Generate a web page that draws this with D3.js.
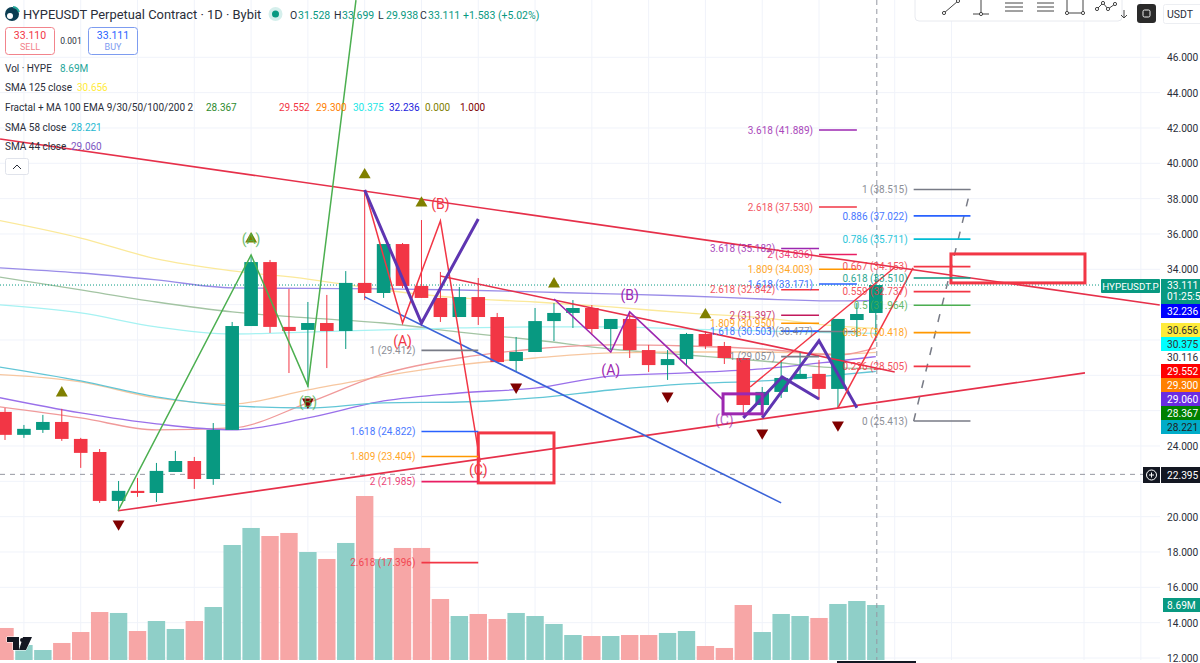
<!DOCTYPE html>
<html><head><meta charset="utf-8">
<style>html,body{margin:0;padding:0;background:#fff}svg{display:block}text{font-family:Roboto,sans-serif}</style>
<script src="https://cdnjs.cloudflare.com/ajax/libs/d3/7.8.5/d3.min.js"></script>
</head><body><svg id="c" width="1200" height="663"></svg>
<script>
// ---- candles (bar index is array position) ----
const opens =[25.93,24.63,24.91,25.36,24.40,23.66,20.89,21.46,21.34,22.53,23.15,22.13,24.91,30.79,34.41,30.74,30.57,30.96,30.51,33.23,32.66,35.43,33.06,32.38,31.30,32.43,31.30,28.81,29.32,31.07,31.53,31.81,30.62,31.19,29.43,28.58,28.92,30.34,29.66,28.98,26.32,27.06,27.80,28.08,27.23,31.13,31.528];
const highs =[26.15,25.19,25.76,26.10,24.46,23.83,22.02,22.19,23.04,23.72,23.38,25.30,31.02,34.81,34.53,32.89,32.15,32.55,33.90,38.49,35.43,35.49,36.79,33.85,33.00,33.51,31.53,30.17,31.81,32.09,32.26,31.98,31.19,31.58,29.72,29.43,30.40,30.51,29.89,28.98,27.34,28.87,29.32,28.87,31.19,32.09,33.699];
const lows  =[24.34,24.46,24.74,24.29,22.76,20.78,20.38,21.12,20.83,22.53,21.57,21.80,24.91,30.79,30.40,28.13,27.34,28.41,29.49,32.26,32.38,32.94,32.38,31.02,31.30,30.85,28.75,28.19,29.32,29.94,30.68,30.28,29.43,28.98,28.19,27.74,28.58,29.49,28.64,25.76,25.64,26.72,27.80,26.60,26.15,30.17,29.938];
const closes=[24.63,24.97,25.36,24.40,23.61,20.89,21.46,21.34,22.59,23.15,22.13,24.91,30.79,34.41,30.74,30.51,30.96,30.51,33.23,32.66,35.43,33.06,32.38,31.30,32.43,31.30,28.75,29.32,31.07,31.53,31.81,30.62,31.19,29.43,28.58,28.92,30.34,29.66,28.98,26.32,27.06,27.85,28.08,27.23,31.19,31.47,33.111];
const volumes=[5.06,2.37,1.58,2.69,4.42,7.58,7.43,4.58,6.16,4.90,6.16,8.37,18.17,20.86,19.59,20.07,17.06,15.96,18.49,25.91,15.96,17.70,17.70,9.64,6.95,7.27,6.48,7.43,6.95,5.69,3.95,3.79,3.79,3.95,3.95,4.27,4.58,2.21,1.90,8.69,4.42,7.27,6.95,6.64,8.85,9.32,8.69];

// ---- moving averages read at these bars ----
const maBars =[-1,4,8,12,16,20,24,28,32,36,40,44,46];
const sma125=[36.91,35.77,34.59,33.91,33.45,32.83,32.38,32.15,31.87,31.53,31.25,30.79,30.656];
const ema200=[34.13,33.79,33.40,32.95,32.92,32.89,32.83,32.72,32.61,32.49,32.32,32.21,32.236];
const ema9  =[33.68,32.83,32.15,31.59,31.25,30.96,30.45,30.00,29.49,29.15,28.81,28.42,28.367];
const ema100=[32.04,31.53,30.74,30.34,30.45,30.57,30.68,30.74,30.74,30.62,30.51,30.40,30.375];
const ema50 =[28.08,27.63,26.72,26.38,27.17,27.96,28.59,28.98,29.27,29.32,29.32,29.21,29.300];
const ema30 =[26.32,25.59,24.91,25.02,26.44,28.08,28.98,29.49,29.72,29.66,29.49,29.15,29.552];
const sma44 =[26.89,25.87,25.25,24.91,25.59,26.55,27.00,27.28,27.96,28.14,28.36,28.81,29.060];
const sma58 =[28.59,27.68,26.78,26.27,26.15,26.44,26.49,26.72,27.17,27.51,27.68,28.02,28.221];

// ---- price axis ----
const priceTicks=[46,44,42,40,38,36,34,24,20,18,16,14,12];
const gridPrices=[46,44,42,40,38,36,34,32,30,28,26,24,22,20,18,16,14,12];
const gridBars=[1,4,7,10,13,16,19,22,25,28,31,34,37,40,43,47,50,57,60];
const lastPrice=33.111, crossPrice=22.395, extraTick=30.116;

// ---- drawing objects (bar, price) ----
const upperTrend=[[-0.26,41.38],[61,31.98]];
const lowerTrend=[[5.97,20.33],[57.05,28.14]];
const blueTrend=[[19,32.44],[41,20.78]];
const innerTrend=[[23,33.62],[47,28.19]];
const greenZig=[[5.97,20.33],[13,34.81],[16,27.40],[18.54,49.24]];
const redZig=[[19,38.49],[21,30.96],[23,36.74],[25.1,23.10]];
const deepZig1=[[19,38.49],[22,30.96],[25,36.85]];
const thinPurple=[[29,32.32],[32,29.32],[33,31.59],[37.93,26.61]];
const deepZig2=[[39,25.59],[41.05,27.91],[43,26.66]];
const deepZig3=[[40,25.59],[43,29.95],[45,26.16]];
const redWedgeA=[[39.36,27.34],[47.02,34.13]];
const redWedgeB=[[44,26.16],[47.97,34.08]];
const dashedLeg=[[48,25.413],[51,38.515]];
const purpleBox=[37.93,40,26.95,25.82];
const redBoxA=[25,29,24.74,21.91];
const redBoxB=[49.97,57.05,34.87,33.23];

const upBars=[3,13,19,22,29,37];
const upPrices=[27.00,35.72,39.35,37.75,33.17,31.42];
const downBars=[6,16,27,35,40,44];
const downPrices=[19.59,26.49,27.34,26.83,24.74,25.19];

// ---- fibonacci levels ----
const fibRatios=["1","1.618","1.809","2","2.618",
 "3.618","2.618","2","1.809","1.618","1",
 "3.618","2.618","2","1.809","1.618","1",
 "1","0.886","0.786","0.667","0.618","0.559","0.5","0.382","0.236","0"];
const fibPrices=[29.412,24.822,23.404,21.985,17.396,
 41.889,37.530,34.836,34.003,33.171,30.477,
 35.182,32.842,31.397,30.950,30.503,29.057,
 38.515,37.022,35.711,34.153,33.510,32.737,31.964,30.418,28.505,25.413];
const fibFrom=[22,22,22,22,22, 43,43,43,43,43,43, 41,41,41,41,41,41, 48,48,48,48,48,48,48,48,48,48];
const fibTo  =[25,25,25,25,25, 45,45,45,45,45,45, 43,43,43,43,43,43, 51,51,51,51,51,51,51,51,51,51];
const fibColors=["#787b86","#2962ff","#ff9800","#e91e63","#f23645",
 "#9c27b0","#f23645","#e91e63","#ff9800","#2962ff","#787b86",
 "#9c27b0","#f23645","#c2185b","#ff9800","#2962ff","#787b86",
 "#787b86","#2962ff","#00bcd4","#f23645","#089981","#f23645","#4caf50","#ff9800","#f23645","#787b86"];

// ---- price tags ----
const tagText=["32.236","30.656","30.375","29.552","29.300","29.060","28.367","28.221"];
const tagFill=["#0000ff","#ffeb3b","#00ffff","#ff0000","#ff8000","#6a2be2","#008000","#00acc8"];
const tagInk =["#fff","#333","#333","#fff","#fff","#fff","#fff","#222"];
const tagTop =[304,323,337,364,378,392,406,420];

const svg=d3.select("#c");
const x=d3.scaleLinear().domain([0,46]).range([5,875.8]);
const y=d3.scaleLinear().domain([46,12]).range([57.3,658]);
const v=d3.scaleLinear().domain([0,25.91]).range([660,496]);
const UP="#089981",DN="#f23645";
const line=d3.line().x(d=>x(d[0])).y(d=>y(d[1]));

// grid
const g=svg.append("g").attr("stroke","#f0f3fa").attr("stroke-width",1);
g.selectAll(".h").data(gridPrices).join("line").attr("x1",0).attr("x2",1160).attr("y1",d=>y(d)).attr("y2",d=>y(d));
g.selectAll(".v").data(gridBars).join("line").attr("x1",d=>x(d)).attr("x2",d=>x(d)).attr("y1",0).attr("y2",660);

// volume
svg.append("g").selectAll("rect").data(volumes).join("rect")
 .attr("x",(d,i)=>x(i)-8.7).attr("width",17.4).attr("y",d=>v(d)).attr("height",d=>660-v(d))
 .attr("fill",(d,i)=>closes[i]>=opens[i]?"#8fcfc8":"#f7a6a6");

// moving averages
const maLine=d3.line().x((d,i)=>x(maBars[i])).y(d=>y(d)).curve(d3.curveMonotoneX);
[[sma125,"#fbe99a"],[ema200,"#9a8ce8"],[ema9,"#a3c4a3"],[ema100,"#a6f2f2"],[ema50,"#f7c7a0"],[ema30,"#f09a9a"],[sma44,"#9a70ea"],[sma58,"#62c6d6"]]
 .forEach(([a,c])=>svg.append("path").attr("d",maLine(a)).attr("fill","none").attr("stroke",c).attr("stroke-width",1.3));

// reference lines
svg.append("line").attr("x1",0).attr("x2",1101).attr("y1",y(lastPrice)).attr("y2",y(lastPrice)).attr("stroke",UP).attr("stroke-dasharray","1 2");
svg.append("line").attr("x1",0).attr("x2",1143).attr("y1",y(crossPrice)).attr("y2",y(crossPrice)).attr("stroke","#9598a1").attr("stroke-dasharray","5 5");
svg.append("line").attr("x1",x(46)+1).attr("x2",x(46)+1).attr("y1",0).attr("y2",660).attr("stroke","#9598a1").attr("stroke-dasharray","5 4");

// candles
const cg=svg.append("g");
cg.selectAll("line").data(opens).join("line").attr("x1",(d,i)=>x(i)).attr("x2",(d,i)=>x(i))
 .attr("y1",(d,i)=>y(highs[i])).attr("y2",(d,i)=>y(lows[i])).attr("stroke-width",1)
 .attr("stroke",(d,i)=>closes[i]>=d?UP:DN);
cg.selectAll("rect").data(opens).join("rect").attr("x",(d,i)=>x(i)-6.8).attr("width",13.6)
 .attr("y",(d,i)=>y(Math.max(d,closes[i]))).attr("height",(d,i)=>Math.max(1.5,Math.abs(y(d)-y(closes[i]))))
 .attr("fill",(d,i)=>closes[i]>=d?UP:DN);

// drawings
function draw(pts,c,w,dash){svg.append("path").attr("d",line(pts)).attr("fill","none").attr("stroke",c).attr("stroke-width",w).attr("stroke-dasharray",dash||null).attr("stroke-linejoin","miter");}
draw(upperTrend,"#e6304a",1.6);draw(lowerTrend,"#e6304a",1.6);draw(innerTrend,"#e6304a",1.6);
draw(blueTrend,"#3b63d8",1.6);
draw(greenZig,"#4caf50",1.5);
draw(redZig,"#f23645",1.5);
draw(deepZig1,"#5e35b1",3);
draw(thinPurple,"#9c27b0",1.6);
draw(deepZig2,"#5e35b1",3);draw(deepZig3,"#5e35b1",3);
draw(redWedgeA,"#f23645",1.5);draw(redWedgeB,"#f23645",1.5);
draw(dashedLeg,"#787b86",1.5,"8 9");
function box(b,c,w){svg.append("rect").attr("x",x(b[0])).attr("width",x(b[1])-x(b[0])).attr("y",y(b[2])).attr("height",y(b[3])-y(b[2])).attr("fill","none").attr("stroke",c).attr("stroke-width",w);}
box(purpleBox,"#9c27b0",3);box(redBoxA,"#f23645",3);box(redBoxB,"#f23645",3);

// triangles
const tri=d3.symbol().type(d3.symbolTriangle).size(62);
svg.append("g").selectAll("path").data(upBars).join("path").attr("d",tri).attr("fill","#808000")
 .attr("transform",(d,i)=>`translate(${x(d)},${y(upPrices[i])})`);
svg.append("g").selectAll("path").data(downBars).join("path").attr("d",tri).attr("fill","#800000")
 .attr("transform",(d,i)=>`translate(${x(d)},${y(downPrices[i])}) rotate(180)`);

// fib levels
const fg=svg.append("g");
fg.selectAll("line").data(fibPrices).join("line").attr("x1",(d,i)=>x(fibFrom[i])).attr("x2",(d,i)=>x(fibTo[i]))
 .attr("y1",d=>y(d)).attr("y2",d=>y(d)).attr("stroke",(d,i)=>fibColors[i]).attr("stroke-width",1.6);
fg.selectAll("text").data(fibPrices).join("text").attr("x",(d,i)=>x(fibFrom[i])-6).attr("y",d=>y(d)+3.6)
 .attr("text-anchor","end").attr("font-size",10).attr("opacity",.85).attr("fill",(d,i)=>fibColors[i])
 .text((d,i)=>`${fibRatios[i]} (${d.toFixed(3)})`);

// wave labels
function wave(t,b,p,c,s,o){svg.append("text").attr("x",x(b)).attr("y",y(p)+5).attr("text-anchor","middle").attr("font-size",s||14).attr("fill",c).attr("opacity",o||1).text(t);}
wave("(A)",21,29.95,"#f23645");wave("(B)",23,37.70,"#f23645");wave("(C)",25,22.65,"#f23645");
wave("(A)",32,28.30,"#9c27b0");wave("(B)",33,32.55,"#9c27b0");wave("(C)",38,25.47,"#9c27b0",14,.7);
wave("(A)",13,35.72,"#4caf50",14,.8);wave("(B)",16,26.49,"#4caf50",14,.8);

// ---- header ----
function t(s,px,py,fs,c,a){return svg.append("text").attr("x",px).attr("y",py).attr("font-size",fs).attr("fill",c).attr("text-anchor",a||"start").text(s);}
const INK="#2a2e39";
svg.append("circle").attr("cx",12).attr("cy",14).attr("r",7).attr("fill","#0b3d52");
svg.append("circle").attr("cx",10).attr("cy",16).attr("r",3).attr("fill","#fff");
svg.append("path").attr("d","M13 7A7 7 0 0 1 19 12").attr("stroke","#26a69a").attr("stroke-width",2).attr("fill","none");
t("HYPEUSDT Perpetual Contract · 1D · Bybit",23,19,12.9,INK);
svg.append("circle").attr("cx",275.5).attr("cy",14).attr("r",7).attr("fill","#d5efec");
svg.append("circle").attr("cx",275.5).attr("cy",14).attr("r",3.5).attr("fill",UP);
[["O","31.528",290],["H","33.699",334],["L","29.938",378],["C","33.111",420]].forEach(d=>{
 t(d[0],d[2],19,10.5,INK);t(d[1],d[2]+8,19,10.5,UP);});
t("+1.583 (+5.02%)",463,19,10.5,UP);

svg.append("rect").attr("x",5.5).attr("y",27.5).attr("width",49).attr("height",27).attr("rx",3).attr("fill","#fff").attr("stroke","#f2848c");
svg.append("rect").attr("x",88.5).attr("y",27.5).attr("width",49).attr("height",27).attr("rx",3).attr("fill","#fff").attr("stroke","#7d9cf0");
t("33.110",30,39,10.5,"#f23645","middle");t("SELL",30,50,9,"#f2848c","middle");
t("33.111",113,39,10.5,"#2962ff","middle");t("BUY",113,50,9,"#7d9cf0","middle");
t("0.001",71,44,8.5,INK,"middle");

const LF=10;
t("Vol · HYPE",5,72,LF,INK);t("8.69M",60,72,LF,"#26a69a");
t("SMA 125 close",5,91,LF,INK);t("30.656",77,91,LF,"#ffeb3b");
t("Fractal + MA 100 EMA 9/30/50/100/200 2",5,111,LF,INK);
[["28.367",206,"#2e8b2e"],["29.552",279,"#f23645"],["29.300",316,"#ff8000"],["30.375",353,"#22e6e6"],["32.236",389,"#2222dd"],["0.000",425,"#808000"],["1.000",460,"#800000"]].forEach(d=>t(d[0],d[1],111,LF,d[2]));
t("SMA 58 close",5,131,LF,INK);t("28.221",71,131,LF,"#26b8d0");
t("SMA 44 close",5,150,LF,INK);t("29.060",71,150,LF,"#7e57c2");
svg.append("rect").attr("x",5.5).attr("y",158.5).attr("width",23).attr("height",16).attr("rx",2).attr("fill","#fff").attr("stroke","#e0e3eb");
svg.append("path").attr("d","M13 169L17 165L21 169").attr("fill","none").attr("stroke",INK);

// ---- right axis ----
svg.append("g").selectAll("text").data(priceTicks).join("text").attr("x",1167).attr("y",d=>y(d)+4)
 .attr("font-size",10.2).attr("fill",INK).text(d=>d3.format(".3f")(d));
t(d3.format(".3f")(extraTick),1167,361,10.2,INK);
svg.append("rect").attr("x",1101).attr("y",279).attr("width",59).attr("height",14).attr("rx",1).attr("fill",UP);
t("HYPEUSDT.P",1130.5,290,9.8,"#fff","middle");
svg.append("rect").attr("x",1161).attr("y",279).attr("width",39).attr("height",25).attr("fill",UP);
t(lastPrice.toFixed(3),1167,289,10.2,"#fff");t("01:25:5",1167,300,10.2,"#fff");
svg.append("g").selectAll("rect").data(tagText).join("rect").attr("x",1161).attr("width",39)
 .attr("y",(d,i)=>tagTop[i]).attr("height",14).attr("fill",(d,i)=>tagFill[i]);
svg.append("g").selectAll("text").data(tagText).join("text").attr("x",1167).attr("y",(d,i)=>tagTop[i]+11)
 .attr("font-size",10.2).attr("fill",(d,i)=>tagInk[i]).text(d=>d);
svg.append("rect").attr("x",1161).attr("y",467).attr("width",39).attr("height",16).attr("fill","#131722");
t(crossPrice.toFixed(3),1167,479,10.2,"#fff");
svg.append("rect").attr("x",1143).attr("y",467).attr("width",17).attr("height",16).attr("fill","#131722");
svg.append("circle").attr("cx",1151.5).attr("cy",475).attr("r",5).attr("fill","none").attr("stroke","#fff");
svg.append("path").attr("d","M1149 475H1154M1151.5 472.5V477.5").attr("stroke","#fff");
svg.append("rect").attr("x",1163).attr("y",598).attr("width",37).attr("height",14).attr("fill",UP);
t("8.69M",1167,609,10.2,"#fff");

// ---- toolbar ----
svg.append("rect").attr("x",915).attr("y",-4).attr("width",207).attr("height",25).attr("rx",4).attr("fill","#fff").attr("stroke","#e8eaef");
const tb=svg.append("g").attr("fill","none").attr("stroke","#444").attr("stroke-width",1);
tb.append("path").attr("d","M944 13L958 1M973 14H989M981 0V14M1005 3H1023M1005 7H1023M1005 11H1023M1037 3H1054M1037 7H1054M1037 11H1054M1067 0V13H1083V0M1097 9L1103 3L1108 9L1115 4");
[[944,13],[958,1],[981,14],[1067,13],[1083,13],[1097,9],[1103,3],[1108,9],[1115,4]].forEach(p=>tb.append("circle").attr("cx",p[0]).attr("cy",p[1]).attr("r",1.6).attr("fill","#fff"));
svg.append("path").attr("d","M1124 10V18M1121 15L1124 18L1127 15").attr("fill","none").attr("stroke","#444");
svg.append("rect").attr("x",1137).attr("y",4).attr("width",19).attr("height",19).attr("rx",3).attr("fill","#2a2a2a");
svg.append("rect").attr("x",1143).attr("y",10).attr("width",7).attr("height",7).attr("rx",1.5).attr("fill","none").attr("stroke","#eee");
svg.append("rect").attr("x",1163.5).attr("y",4.5).attr("width",40).attr("height",19).attr("rx",2).attr("fill","#fff").attr("stroke","#eceef2");
t("USDT",1167,18,10.5,INK);

// ---- watermark & footer ----
svg.append("path").attr("d","M7 637H19V650H13V642H7ZM23 637H32L26 650H19Z").attr("fill","#131722").attr("stroke","#fff").attr("stroke-width",1).attr("paint-order","stroke");
svg.append("circle").attr("cx",22).attr("cy",640).attr("r",2).attr("fill","#131722");
svg.append("rect").attr("x",837).attr("y",661).attr("width",79).attr("height",2).attr("fill","#131722");
</script></body></html>
